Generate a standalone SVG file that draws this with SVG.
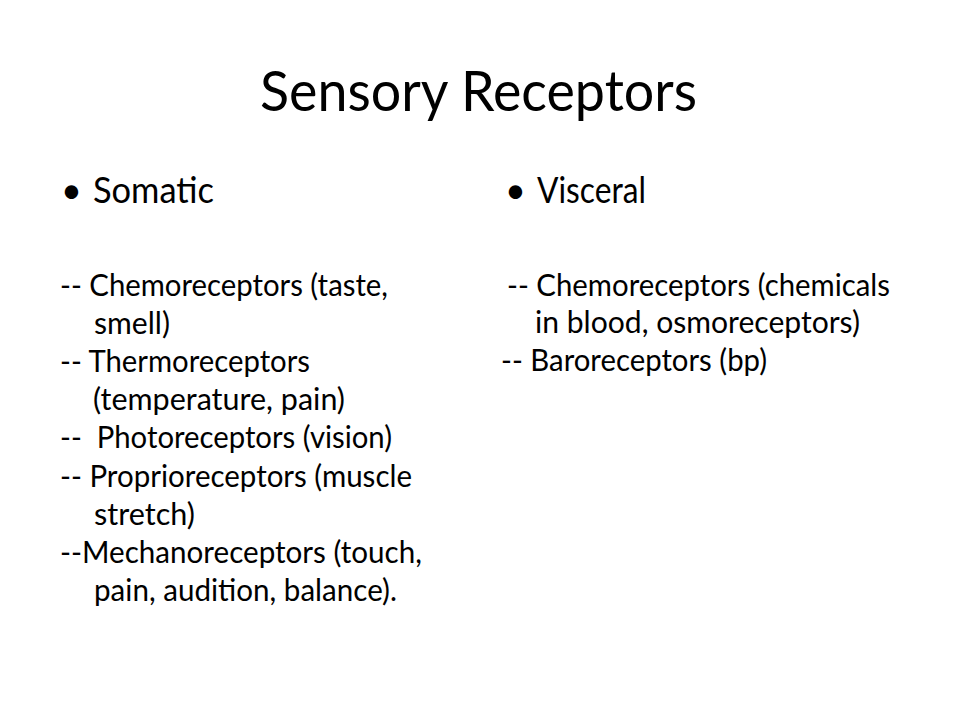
<svg xmlns="http://www.w3.org/2000/svg" width="960" height="720" viewBox="0 0 960 720">
<style>
text{font-family:Lato,"Open Sans","Liberation Sans",sans-serif;fill:#000;}
.t{font-size:56px;}
.h{font-size:36px;}
.b{font-size:31px;}
</style>
<rect width="960" height="720" fill="#fff"/>
<g id="title"><text class="t" x="260" y="111" textLength="437" lengthAdjust="spacingAndGlyphs">Sensory Receptors</text></g>
<g id="somatic">
<text class="h" x="61" y="203">•</text>
<text class="h" x="93" y="203" textLength="121" lengthAdjust="spacingAndGlyphs">Somatic</text>
<text class="b" x="60" y="296" textLength="328" lengthAdjust="spacingAndGlyphs">-- Chemoreceptors (taste,</text>
<text class="b" x="94" y="334" textLength="76" lengthAdjust="spacingAndGlyphs">smell)</text>
<text class="b" x="60" y="372" textLength="250" lengthAdjust="spacingAndGlyphs">-- Thermoreceptors</text>
<text class="b" x="93" y="410" textLength="252" lengthAdjust="spacingAndGlyphs">(temperature, pain)</text>
<text class="b" x="60" y="448" textLength="332" lengthAdjust="spacingAndGlyphs" xml:space="preserve">--  Photoreceptors (vision)</text>
<text class="b" x="60" y="487" textLength="352" lengthAdjust="spacingAndGlyphs">-- Proprioreceptors (muscle</text>
<text class="b" x="94" y="525" textLength="101" lengthAdjust="spacingAndGlyphs">stretch)</text>
<text class="b" x="60" y="563" textLength="362" lengthAdjust="spacingAndGlyphs">--Mechanoreceptors (touch,</text>
<text class="b" x="94" y="601" textLength="303" lengthAdjust="spacingAndGlyphs">pain, audition, balance).</text>
</g>
<g id="visceral">
<text class="h" x="505" y="203">•</text>
<text class="h" x="537" y="203" textLength="109" lengthAdjust="spacingAndGlyphs">Visceral</text>
<text class="b" x="507" y="296" textLength="383" lengthAdjust="spacingAndGlyphs">-- Chemoreceptors (chemicals</text>
<text class="b" x="535" y="333" textLength="325" lengthAdjust="spacingAndGlyphs">in blood, osmoreceptors)</text>
<text class="b" x="501" y="371" textLength="266" lengthAdjust="spacingAndGlyphs">-- Baroreceptors (bp)</text>
</g>
<g id="connectors"></g>
</svg>
